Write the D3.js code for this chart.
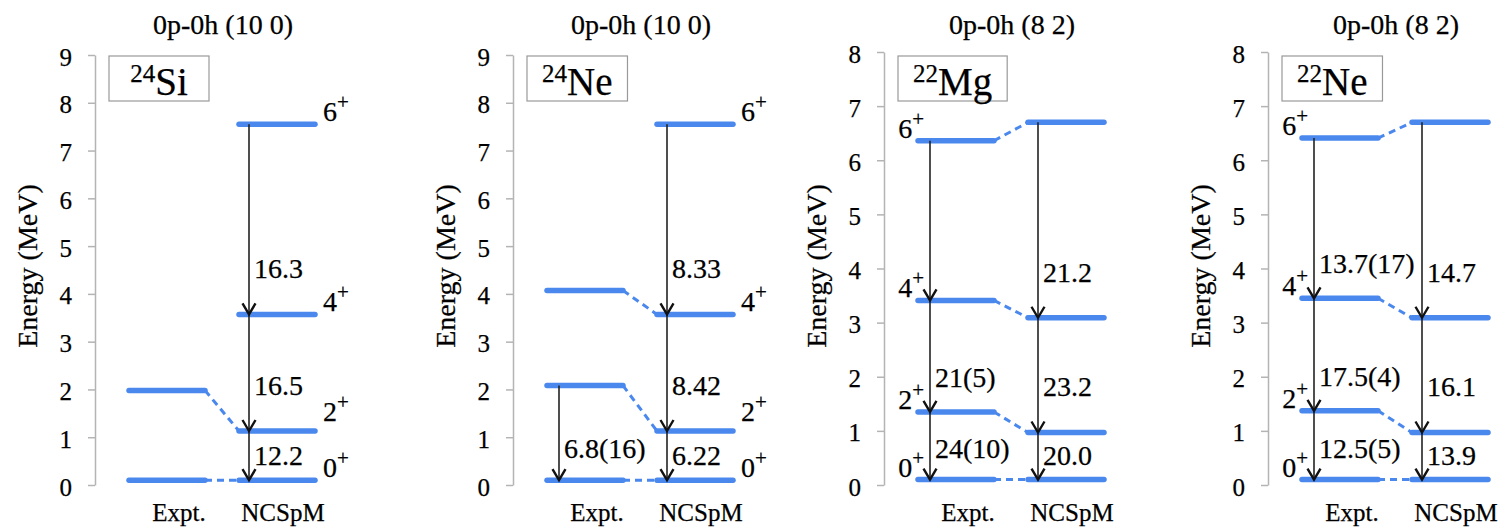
<!DOCTYPE html>
<html>
<head>
<meta charset="utf-8">
<script src="https://cdn.jsdelivr.net/npm/d3@7"></script>
<style>
	body { margin: 0; background: #fff; }
	text, tspan { font-family: "Liberation Serif", "Times New Roman", serif; fill: #000; }
</style>
</head>
<body>
<script>
(function() {

	// data
	var nuclei = ['Si', 'Ne', 'Mg', 'Ne'];
	var massNumbers = ['24', '24', '22', '22'];
	var titles = ['0p-0h (10 0)', '0p-0h (10 0)', '0p-0h (8 2)', '0p-0h (8 2)'];
	var yMax = [9, 9, 8, 8];
	var categories = ['Expt.', 'NCSpM'];
	var spins = ['0', '2', '4', '6'];

	// level energies (MeV) for spins 0,2,4,6
	var exptEnergy = [
		[0.1, 1.98, null, null],
		[0.1, 2.08, 4.07, null],
		[0.1, 1.35, 3.41, 6.36],
		[0.1, 1.37, 3.45, 6.41]
	];
	var ncspmEnergy = [
		[0.1, 1.13, 3.57, 7.55],
		[0.1, 1.13, 3.57, 7.55],
		[0.1, 0.97, 3.09, 6.70],
		[0.1, 0.97, 3.09, 6.70]
	];

	// B(E2) labels for 2->0, 4->2, 6->4 (null = no arrow, '' = arrow only)
	var exptBE2 = [
		[null, null, null],
		['6.8(16)', null, null],
		['24(10)', '21(5)', ''],
		['12.5(5)', '17.5(4)', '13.7(17)']
	];
	var ncspmBE2 = [
		['12.2', '16.5', '16.3'],
		['6.22', '8.42', '8.33'],
		['20.0', '23.2', '21.2'],
		['13.9', '16.1', '14.7']
	];

	var width = 1504;
	var height = 529;
	var axisX = [95, 513, 884, 1268];
	var yBottom = 485;
	var yTop = [55, 55, 52, 52];
	var half = 38;
	var blue = '#4a88ee';
	var grey = '#b4b4b4';
	var serif = '"Liberation Serif", "Times New Roman", serif';

	var svg = d3.select('body')
		.append('svg')
			.attr('width', width)
			.attr('height', height);

	function chevron(ax, tip) {
		return 'M' + (ax - 6.5) + ',' + (tip - 11) + 'L' + ax + ',' + tip + 'L' + (ax + 6.5) + ',' + (tip - 11);
	}

	for (var p = 0; p < 4; p++) {

		var g = svg.append('g')
			.attr('transform', 'translate(' + axisX[p] + ',0)')
			.attr('font-family', serif);

		var y = d3.scaleLinear().domain([0, yMax[p]]).range([yBottom, yTop[p]]);
		var x = d3.scalePoint().domain(categories).range([72, 182]);

		var energies = { 'Expt.': exptEnergy[p], 'NCSpM': ncspmEnergy[p] };
		var be2 = { 'Expt.': exptBE2[p], 'NCSpM': ncspmBE2[p] };

		// axis
		var axis = g.append('g')
			.call(d3.axisLeft(y).ticks(yMax[p]).tickSize(7).tickSizeOuter(0).tickPadding(16))
			.attr('font-family', serif)
			.attr('font-size', 25);
		axis.select('.domain').style('stroke', grey).style('stroke-width', 1.5);
		axis.selectAll('.tick line').style('stroke', grey).style('stroke-width', 1.5);
		axis.selectAll('.tick text')
			.attr('dy', '0.4em')
			.style('font-family', serif)
			.style('font-size', '25px')
			.style('fill', '#000');

		g.append('text')
			.attr('transform', 'translate(-58,266) rotate(-90)')
			.attr('text-anchor', 'middle')
			.style('font-size', '28px')
			.text('Energy (MeV)');

		// title
		g.append('text')
			.attr('x', 128)
			.attr('y', 34)
			.attr('text-anchor', 'middle')
			.style('font-size', '28px')
			.text(titles[p]);

		// nucleus box
		var box = g.append('rect')
			.attr('y', 56)
			.attr('height', 45)
			.style('fill', '#fff')
			.style('stroke', '#999')
			.style('stroke-width', 1.2);
		var label = g.append('text')
			.attr('y', 95)
			.attr('text-anchor', 'middle');
		label.append('tspan')
			.attr('dy', -13)
			.style('font-size', '25px')
			.text(massNumbers[p]);
		label.append('tspan')
			.attr('dy', 13)
			.style('font-size', '39px')
			.text(nuclei[p]);
		var bw = Math.max(100, label.node().getBBox().width + 30);
		box.attr('x', 14).attr('width', bw);
		label.attr('x', 14 + bw / 2);

		// dashed connectors
		for (var s = 0; s < spins.length; s++) {
			if (exptEnergy[p][s] != null && ncspmEnergy[p][s] != null) {
				g.append('line')
					.attr('x1', x('Expt.') + half)
					.attr('y1', y(exptEnergy[p][s]))
					.attr('x2', x('NCSpM') - half)
					.attr('y2', y(ncspmEnergy[p][s]))
					.style('stroke', blue)
					.style('stroke-width', 3)
					.style('stroke-dasharray', '7,5');
			}
		}

		categories.forEach(function(cat) {

			var e = energies[cat];

			// levels
			e.forEach(function(v) {
				if (v == null) return;
				g.append('line')
					.attr('x1', x(cat) - half)
					.attr('x2', x(cat) + half)
					.attr('y1', y(v))
					.attr('y2', y(v))
					.style('stroke', blue)
					.style('stroke-width', 5.5)
					.style('stroke-linecap', 'round');
			});

			// transitions
			var ax = x(cat) - half + (cat == 'Expt.' ? 12 : 10);
			be2[cat].forEach(function(val, i) {
				if (val == null) return;
				var top = y(e[i + 1]);
				var tip = y(e[i]);
				g.append('line')
					.attr('x1', ax).attr('x2', ax)
					.attr('y1', top).attr('y2', tip)
					.style('stroke', '#222')
					.style('stroke-width', 1.6);
				g.append('path')
					.attr('d', chevron(ax, tip))
					.style('fill', 'none')
					.style('stroke', '#111')
					.style('stroke-width', 2.4);
				var off = i == 0 ? (cat == 'Expt.' ? 22 : 15) : (cat == 'Expt.' ? 25 : 36);
				g.append('text')
					.attr('x', ax + 5)
					.attr('y', tip - off)
					.style('font-size', '28px')
					.text(val);
			});

			// category label
			g.append('text')
				.attr('x', x(cat) + (cat == 'Expt.' ? 12 : 6))
				.attr('y', 521)
				.attr('text-anchor', 'middle')
				.style('font-size', '25px')
				.text(cat);
		});

		// spin labels
		var side = p < 2 ? 'NCSpM' : 'Expt.';
		energies[side].forEach(function(v, s) {
			if (v == null) return;
			var t = g.append('text')
				.attr('x', p < 2 ? x(side) + half + 8 : x(side) - half + 6)
				.attr('y', y(v) - (s == 1 && p < 2 ? 10 : 3))
				.attr('text-anchor', p < 2 ? 'start' : 'end')
				.style('font-size', '28px');
			t.append('tspan').style('fill', '#000').text(spins[s]);
			t.append('tspan')
				.attr('dy', -12)
				.style('font-size', '21px')
				.style('fill', '#000')
				.text('+');
		});

		// slightly heavier glyphs, like the scanned figure
		g.selectAll('text').style('stroke', '#000').style('stroke-width', 0.25);
	}

})();
</script>
</body>
</html>
